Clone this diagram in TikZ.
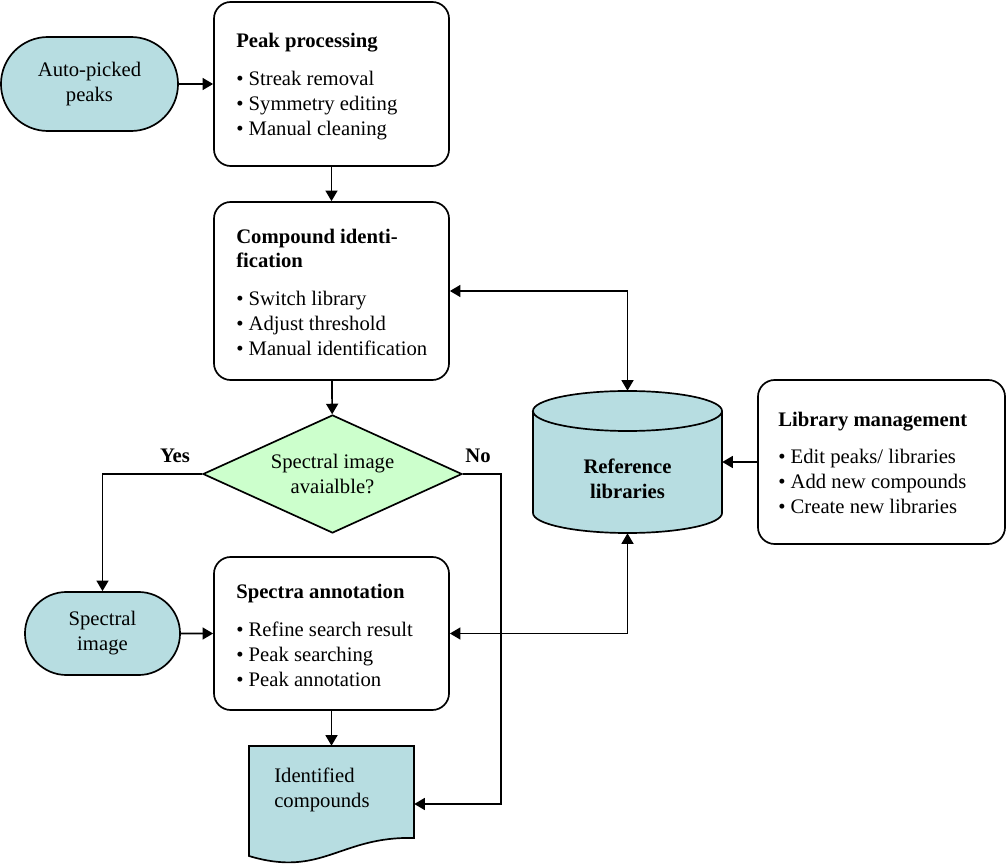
\documentclass[tikz,border=0pt]{standalone}
\usepackage{fontspec}
\setmainfont{Liberation Serif}
\usetikzlibrary{arrows.meta,shapes.geometric,shapes.misc}
\begin{document}
\begin{tikzpicture}[x=0.025cm,y=-0.025cm,
  every node/.style={font=\fontsize{14.7}{17.8}\selectfont},
  procbox/.style={draw=neutralcolor,line width=1.2pt,fill=fillcolor,rounded corners=0.42cm,inner sep=0},
  termbox/.style={draw=neutralcolor,line width=1.2pt,fill=bluecolor,rounded rectangle,inner sep=0,align=center},
  decbox/.style={draw=neutralcolor,line width=1.2pt,fill=greencolor,diamond,aspect=2.2,inner sep=0,align=center},
  shapeline/.style={draw=neutralcolor,line width=1.2pt,fill=bluecolor},
  hold/.style={inner sep=0,align=center},
  item/.style={anchor=base west,inner sep=0},
  pathline/.style={draw=pathcolor,line width=1.2pt},
  arr/.style={pathline,-{Triangle[length=7.5pt,width=8.5pt]}},
  dblarr/.style={pathline,{Triangle[length=7.5pt,width=8.5pt]}-{Triangle[length=7.5pt,width=8.5pt]}}]
\definecolor{neutralcolor}{RGB}{0,0,0}
\definecolor{pathcolor}{RGB}{0,0,0}
\definecolor{fillcolor}{RGB}{255,255,255}
\definecolor{bluecolor}{RGB}{183,221,225}
\definecolor{greencolor}{RGB}{204,255,204}
\useasboundingbox (0,0) rectangle (1007,865);
\draw[shapeline] (533,411) -- (533,513) arc[start angle=180,end angle=360,x radius=2.3625cm,y radius=0.5cm]
  -- (722,411) arc[start angle=0,end angle=180,x radius=2.3625cm,y radius=0.5cm] -- cycle;
\draw[neutralcolor,line width=1.2pt] (533,411) arc[start angle=180,end angle=360,x radius=2.3625cm,y radius=0.5cm];
\draw[shapeline] (249,746) -- (414,746) -- (414,838) .. controls (340,836) and (322,878) .. (249,856) -- cycle;
\node[termbox,minimum width=4.425cm,minimum height=2.35cm] (auto) at (89.5,84) {Auto-picked\\peaks};
\node[procbox,minimum width=5.875cm,minimum height=4.1cm] (peak) at (331.5,84) {};
\node[item] at (236,48) {\textbf{Peak processing}};
\foreach \txt [count=\i] in {Streak removal,Symmetry editing,Manual cleaning}
  \node[item] at (236,61+25*\i) {\textbullet\ \txt};
\node[procbox,minimum width=5.875cm,minimum height=4.45cm] (cid) at (331.5,291) {};
\node[item] at (236,244) {\textbf{Compound identi-}};
\node[item] at (236,268) {\textbf{fication}};
\foreach \txt [count=\i] in {Switch library,Adjust threshold,Manual identification}
  \node[item] at (236,281+25*\i) {\textbullet\ \txt};
\node[decbox,minimum width=6.475cm,minimum height=2.95cm] (dec) at (332.5,474) {Spectral image\\avaialble?};
\node[hold] (yes) at (175,456) {\textbf{Yes}};
\node[hold] (no) at (478,456) {\textbf{No}};
\node[termbox,minimum width=3.875cm,minimum height=2.075cm] (spec) at (102.5,633.5) {Spectral\\image};
\node[procbox,minimum width=5.875cm,minimum height=3.825cm] (ann) at (331.5,633.5) {};
\node[item] at (236,598) {\textbf{Spectra annotation}};
\foreach \txt [count=\i] in {Refine search result,Peak searching,Peak annotation}
  \node[item] at (236,611+25*\i) {\textbullet\ \txt};
\node[hold,minimum width=4.125cm,minimum height=2.9cm] (doc) at (331.5,804) {};
\node[hold,align=left,anchor=west] (doctext) at (274,790) {Identified\\compounds};
\node[hold,minimum width=4.725cm,minimum height=3.55cm] (refs) at (627.5,462) {};
\node[hold] (refstext) at (627.5,479) {\textbf{Reference}\\\textbf{libraries}};
\node[procbox,minimum width=6.175cm,minimum height=4.1cm] (lib) at (881.5,462) {};
\node[item] at (778,427) {\textbf{Library management}};
\foreach \txt [count=\i] in {Edit peaks/ libraries,Add new compounds,Create new libraries}
  \node[item] at (778,439+25*\i) {\textbullet\ \txt};
\draw[arr] (auto) -- (peak);
\draw[arr] (peak) -- (cid);
\draw[arr] (cid) -- (dec);
\draw[arr] (dec.west) -| (spec.north);
\draw[arr] (spec) -- (ann);
\draw[arr] (ann) -- (doc);
\draw[arr] (dec.east) -- ++(38,0) |- (doc.east);
\draw[dblarr] (cid.east) -| (refs.north);
\draw[dblarr] (ann.east) -| (refs.south);
\draw[arr] (lib) -- (refs);
\end{tikzpicture}
\end{document}
